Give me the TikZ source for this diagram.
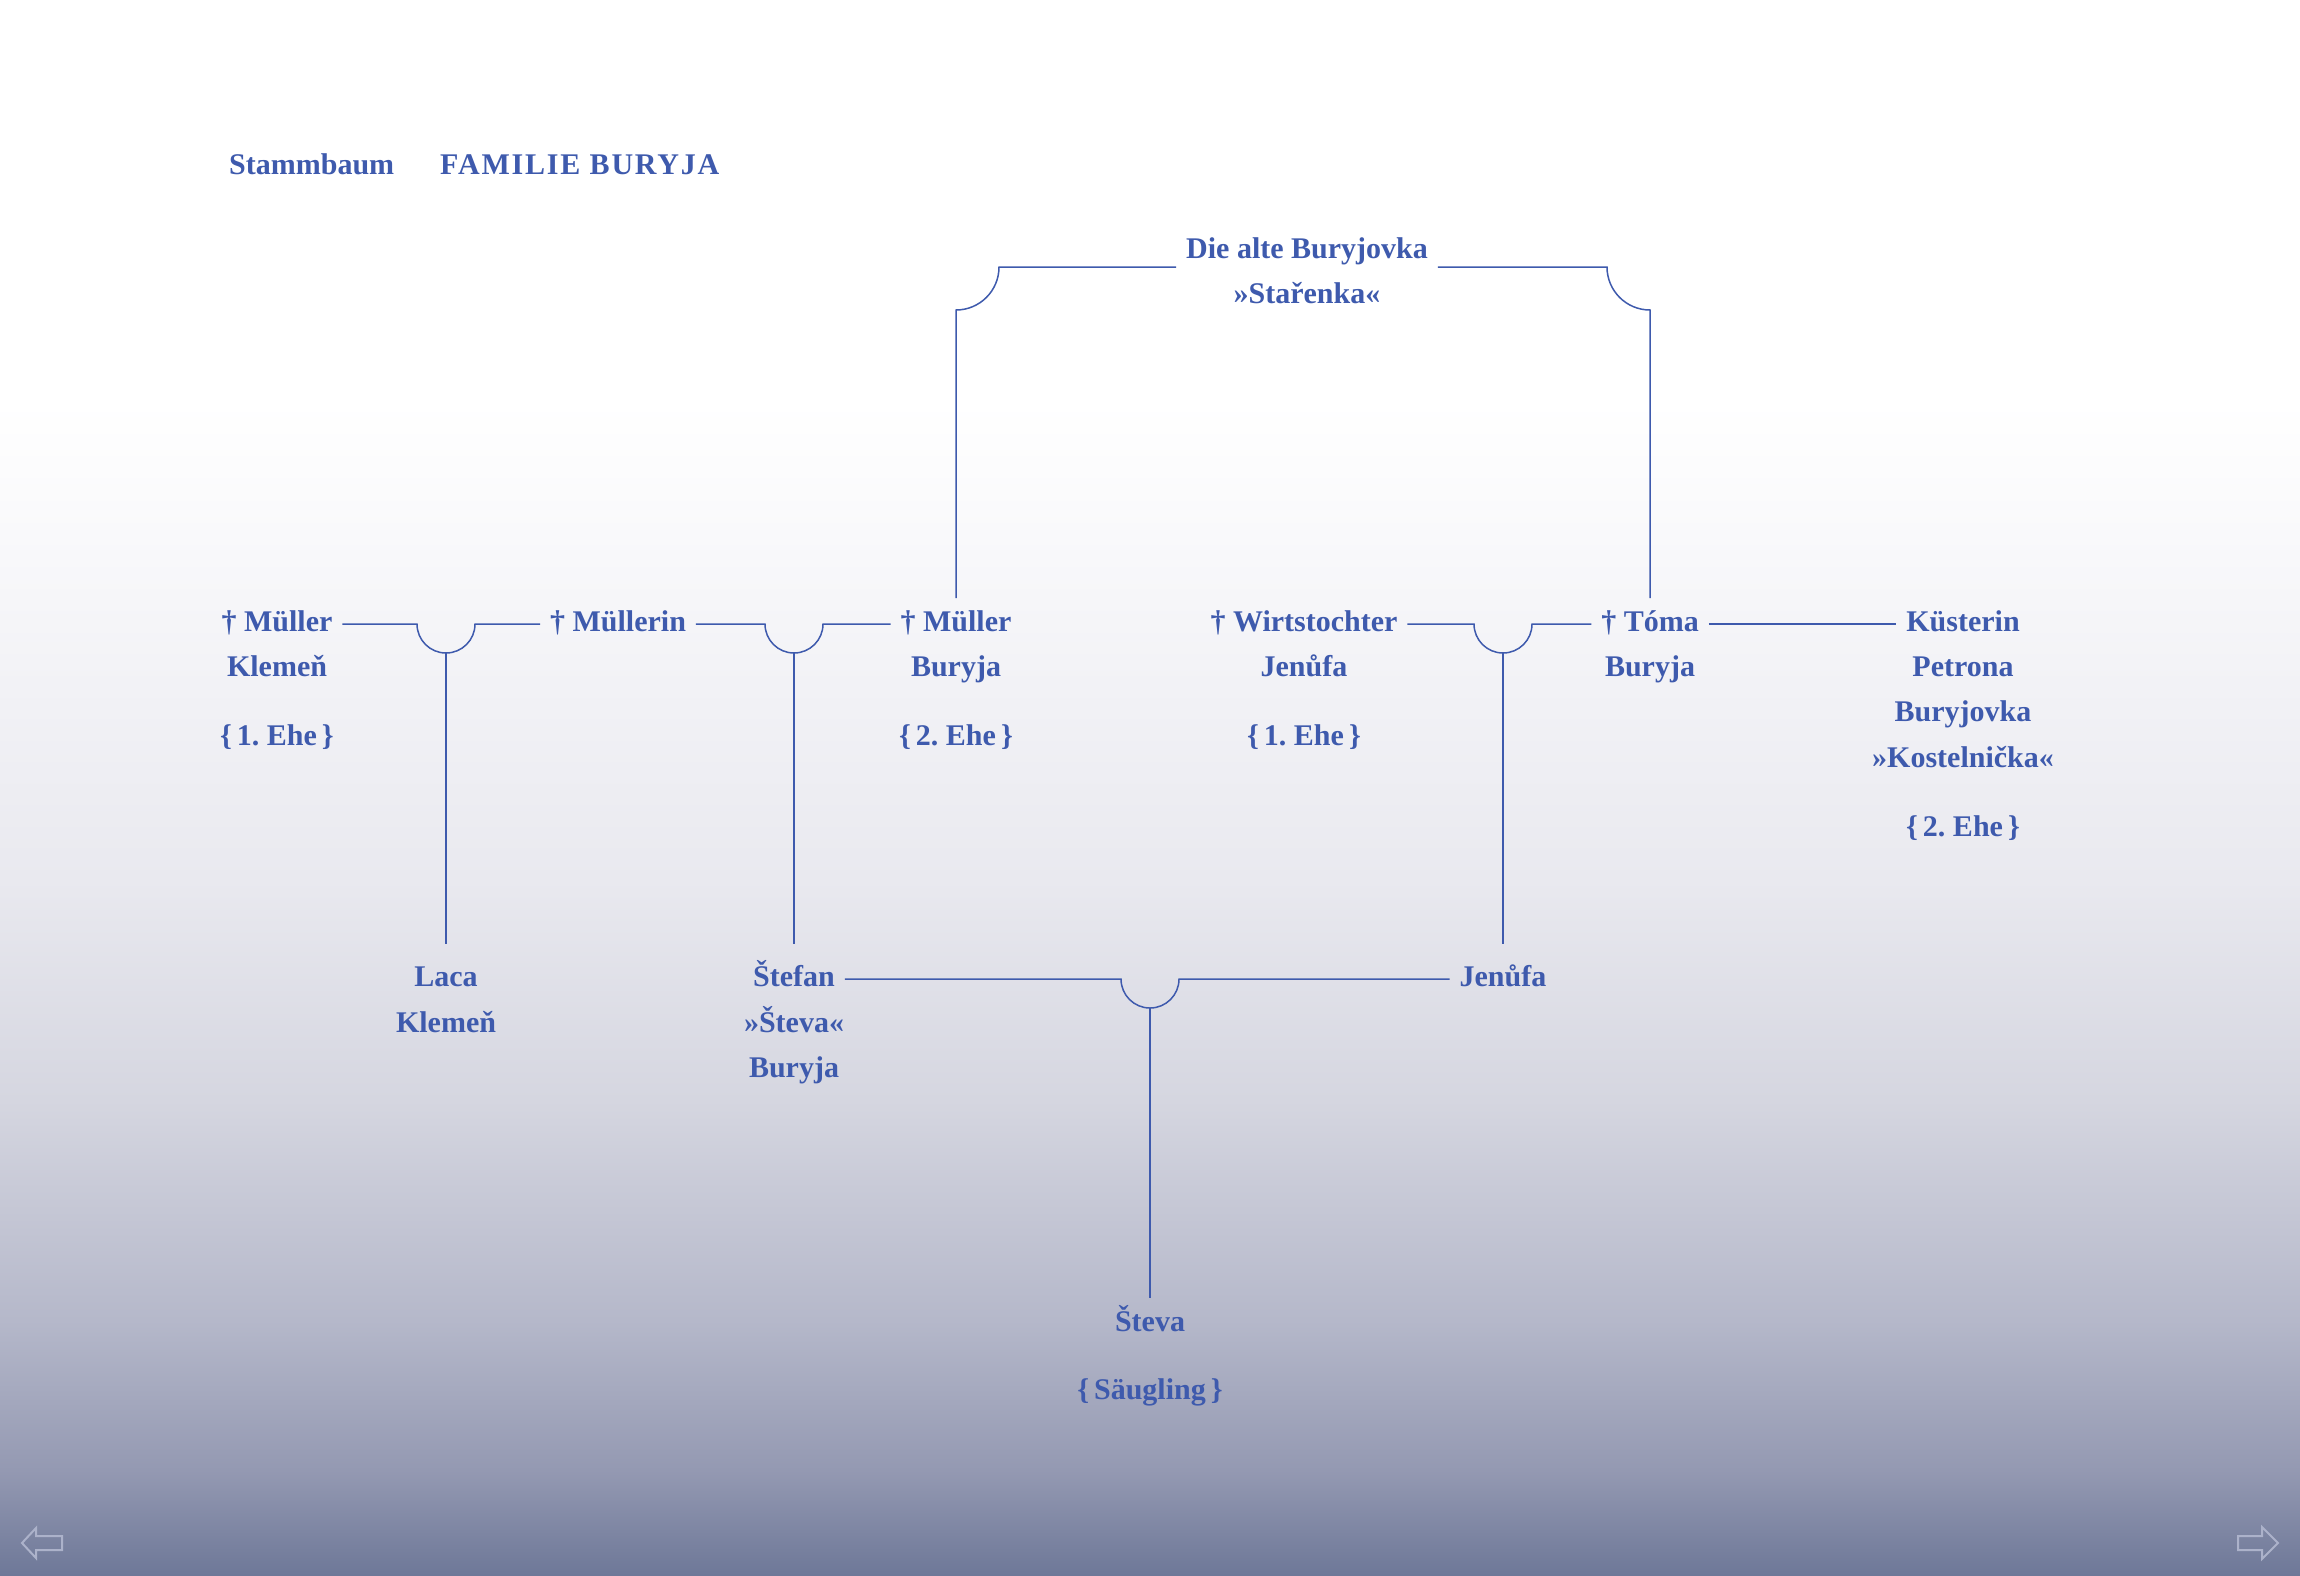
\documentclass[tikz,border=0pt]{standalone}
\usepackage{fontspec}
\setmainfont{Liberation Serif}
\newfontfamily\spacedfont[LetterSpace=6]{Liberation Serif}
\frenchspacing
\definecolor{ink}{RGB}{62,90,173}
\definecolor{arr}{RGB}{172,178,202}
\definecolor{g1}{RGB}{246,246,249}
\definecolor{g2}{RGB}{233,233,239}
\definecolor{g3}{RGB}{213,214,224}
\definecolor{g4}{RGB}{181,184,202}
\definecolor{g5}{RGB}{148,153,178}
\definecolor{g6}{RGB}{110,120,152}
\pgfdeclareverticalshading{bgshade}{100bp}{color(0bp)=(g6); color(25bp)=(g6); color(28.33bp)=(g5); color(33.1bp)=(g4); color(40.08bp)=(g3); color(47.06bp)=(g2); color(55.95bp)=(g1); color(62.3bp)=(white); color(100bp)=(white)}
\tikzset{
  p/.style={anchor=base, inner sep=0pt, outer xsep=10pt, outer ysep=13pt, text height=20pt, text depth=6pt, text=ink, font=\fontsize{30}{36}\selectfont\bfseries\frenchspacing},
  plow/.style={p, outer ysep=22pt},
  ttl/.style={anchor=base west, inner sep=0pt, text=ink, font=\fontsize{30}{36}\selectfont\bfseries},
  ln/.style={draw=ink, line width=1.5pt},
  navarrow/.style={draw=arr, line width=2pt, line join=miter}
}
\begin{document}
\begin{tikzpicture}[x=1pt, y=-1pt]
\useasboundingbox (0,0) rectangle (2300,1575);
\shade[shading=bgshade] (0,0) rectangle (2300,1575);

% title
\node[ttl] (t1) at (229,174) {Stammbaum};
\node[ttl] (t2) at (440,174) {\spacedfont\bfseries FAMILIE BURYJA};

% top
\node[p] (alt1) at (1307,258) {Die alte Buryjovka};
\node[p] (alt2) at (1307,303) {»Stařenka«};

% row 1
\node[p] (mk1) at (277,631) {† Müller};
\node[p] (mk2) at (277,676) {Klemeň};
\node[p] (mk3) at (277,745) {\{\,1. Ehe\,\}};
\node[p] (mn)  at (618,631) {† Müllerin};
\node[p] (mb1) at (956,631) {† Müller};
\node[p] (mb2) at (956,676) {Buryja};
\node[p] (mb3) at (956,745) {\{\,2. Ehe\,\}};
\node[p] (wj1) at (1304,631) {† Wirtstochter};
\node[p] (wj2) at (1304,676) {Jenůfa};
\node[p] (wj3) at (1304,745) {\{\,1. Ehe\,\}};
\node[p] (tb1) at (1650,631) {† Tóma};
\node[p] (tb2) at (1650,676) {Buryja};
\node[p] (kp1) at (1963,631) {Küsterin};
\node[p] (kp2) at (1963,676) {Petrona};
\node[p] (kp3) at (1963,721) {Buryjovka};
\node[p] (kp4) at (1963,767) {»Kostelnička«};
\node[p] (kp5) at (1963,836) {\{\,2. Ehe\,\}};

% row 2
\node[plow] (lk1) at (446,986) {Laca};
\node[p] (lk2) at (446,1032) {Klemeň};
\node[plow] (sb1) at (794,986) {Štefan};
\node[p] (sb2) at (794,1032) {»Števa«};
\node[p] (sb3) at (794,1077) {Buryja};
\node[plow] (jb) at (1503,986) {Jenůfa};

% row 3
\node[p] (sv1) at (1150,1331) {Števa};
\node[p] (sv2) at (1150,1399) {\{\,Säugling\,\}};

% helper coordinates
\coordinate (btop) at (0,267);
\coordinate (blc) at (956,310);
\coordinate (brc) at (1650,310);
\coordinate (a1l) at (417,624);  \coordinate (a1b) at (446,653);
\coordinate (a2l) at (765,624);  \coordinate (a2b) at (794,653);
\coordinate (a3l) at (1474,624); \coordinate (a3b) at (1503,653);
\coordinate (a4l) at (1121,979); \coordinate (a4b) at (1150,1008);

% top bracket
\draw[ln] (mb1.north) -- (blc) arc[start angle=90, end angle=0, radius=43] -- (alt1.west |- btop);
\draw[ln] (tb1.north) -- (brc) arc[start angle=90, end angle=180, radius=43] -- (alt1.east |- btop);

% marriages row 1
\draw[ln] (mk1.east) -- (a1l) arc[start angle=180, end angle=0, radius=29] -- (mn.west);
\draw[ln] (a1b) -- (lk1.north);
\draw[ln] (mn.east) -- (a2l) arc[start angle=180, end angle=0, radius=29] -- (mb1.west);
\draw[ln] (a2b) -- (sb1.north);
\draw[ln] (wj1.east) -- (a3l) arc[start angle=180, end angle=0, radius=29] -- (tb1.west);
\draw[ln] (a3b) -- (jb.north);
\draw[ln] (tb1.east) -- (kp1.west);

% row 2
\draw[ln] (sb1.east) -- (a4l) arc[start angle=180, end angle=0, radius=29] -- (jb.west);
\draw[ln] (a4b) -- (sv1.north);

% navigation arrows
\draw[navarrow] (22,1543) -- (36,1528) -- (36,1536) -- (62,1536) -- (62,1550) -- (36,1550) -- (36,1558) -- cycle;
\draw[navarrow] (2278,1543) -- (2262,1527) -- (2262,1536) -- (2238,1536) -- (2238,1550) -- (2262,1550) -- (2262,1559) -- cycle;
\end{tikzpicture}
\end{document}
